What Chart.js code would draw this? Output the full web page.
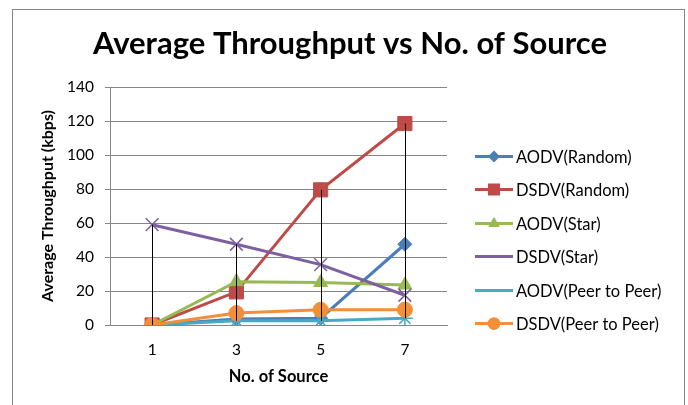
<!DOCTYPE html>
<html>
<head>
<meta charset="utf-8">
<script src="https://cdn.jsdelivr.net/npm/chart.js@4"></script>
<style>
  html, body { margin: 0; padding: 0; background: #fff; }
  #wrap { position: relative; width: 688px; height: 405px; }
</style>
</head>
<body>
<div id="wrap"><canvas id="c" width="688" height="405"></canvas></div>
<script>
// Number of sources on the x axis
const sources = ['1', '3', '5', '7'];

// Average throughput (kbps) per protocol / topology
const aodvRandom = [0, 3.5, 4, 47.5];
const dsdvRandom = [0, 19.5, 79.5, 118.5];
const aodvStar   = [0, 25.5, 25, 23.5];
const dsdvStar   = [59, 47.5, 35.5, 17.5];
const aodvPeer   = [0, 2.5, 2.5, 4];
const dsdvPeer   = [0, 7, 9, 9];

// Y axis ticks
const yMin = 0, yMax = 140, yStep = 20;

const FONT = 'Lato, "Open Sans", "DejaVu Sans", sans-serif';

function series(label, data, color, style, radius, idx) {
  const cross = style === 'crossRot' || style === 'star';
  return {
    label, data,
    borderColor: color,
    backgroundColor: color,
    borderWidth: 3,
    pointStyle: style,
    pointRadius: radius,
    pointHoverRadius: radius,
    pointBackgroundColor: color,
    pointBorderColor: color,
    pointBorderWidth: cross ? 1.5 : 1,
    tension: 0,
    order: 5 - idx
  };
}

const datasets = [
  series('AODV(Random)', aodvRandom, '#4A7EBB', 'rectRot', 7, 0),
  series('DSDV(Random)', dsdvRandom, '#BE4B48', 'rect', 10, 1),
  series('AODV(Star)', aodvStar, '#98B954', 'triangle', 8, 2),
  series('DSDV(Star)', dsdvStar, '#7D60A0', 'crossRot', 9, 3),
  series('AODV(Peer to Peer)', aodvPeer, '#46AAC5', 'star', 8, 4),
  series('DSDV(Peer to Peer)', dsdvPeer, '#F38F3A', 'circle', 7.5, 5)
];

// Outer frame of the chart
const framePlugin = {
  id: 'frame',
  beforeDraw(chart) {
    const ctx = chart.ctx;
    ctx.save();
    ctx.strokeStyle = '#868686';
    ctx.lineWidth = 1;
    ctx.strokeRect(12.5, 9.5, 672, 420);
    ctx.restore();
  }
};

// High-low lines joining the highest and lowest value at each category
const hiLoPlugin = {
  id: 'hiLo',
  afterDatasetsDraw(chart) {
    const ctx = chart.ctx;
    const xs = chart.scales.x, ys = chart.scales.y;
    ctx.save();
    ctx.strokeStyle = '#000';
    ctx.lineWidth = 1;
    sources.forEach((s, i) => {
      const vals = chart.data.datasets.map(d => d.data[i]);
      const hi = Math.max(...vals), lo = Math.min(...vals);
      const x = Math.round(xs.getPixelForValue(i)) + 0.5;
      ctx.beginPath();
      ctx.moveTo(x, ys.getPixelForValue(hi));
      ctx.lineTo(x, ys.getPixelForValue(lo));
      ctx.stroke();
    });
    ctx.restore();
  }
};

// Legend on the right, one row per series (line + marker + name)
const sideLegend = {
  id: 'sideLegend',
  afterDraw(chart) {
    const ctx = chart.ctx;
    const x0 = 475, x1 = 513, tx = 516, y0 = 156, step = 33.4;
    ctx.save();
    ctx.font = '16.5px ' + FONT;
    ctx.textBaseline = 'middle';
    ctx.textAlign = 'left';
    chart.data.datasets.forEach((d, i) => {
      const y = Math.round(y0 + i * step) + 0.5;
      ctx.strokeStyle = d.borderColor;
      ctx.lineWidth = 3;
      ctx.beginPath();
      ctx.moveTo(x0, y);
      ctx.lineTo(x1, y);
      ctx.stroke();
      ctx.lineWidth = d.pointBorderWidth;
      ctx.fillStyle = d.pointBackgroundColor;
      ctx.strokeStyle = d.pointBorderColor;
      Chart.helpers.drawPoint(ctx, {
        pointStyle: d.pointStyle,
        radius: d.pointRadius * 0.85,
        rotation: 0
      }, (x0 + x1) / 2, y);
      ctx.fillStyle = '#000';
      ctx.fillText(d.label, tx, y + 1);
    });
    ctx.restore();
  }
};

new Chart(document.getElementById('c'), {
  type: 'line',
  data: { labels: sources, datasets },
  plugins: [framePlugin, hiLoPlugin, sideLegend],
  options: {
    responsive: false,
    animation: false,
    events: [],
    layout: { padding: { left: 12, right: 0, top: 25, bottom: 18 } },
    plugins: {
      legend: { display: false },
      tooltip: { enabled: false },
      title: {
        display: true,
        text: 'Average Throughput vs No. of Source',
        color: '#000',
        font: { family: FONT, size: 31, weight: 'bold', lineHeight: 1.2 },
        padding: { top: 0, bottom: 24.8 }
      }
    },
    scales: {
      x: {
        offset: true,
        afterFit(s) { s.height = 62; },
        grid: { display: false, drawTicks: false },
        border: { display: true, color: '#868686', width: 1 },
        ticks: { color: '#000', padding: 16, font: { family: FONT, size: 15.5 } },
        title: {
          display: true,
          text: 'No. of Source',
          color: '#000',
          padding: 0,
          font: { family: FONT, size: 16.5, weight: 'bold', lineHeight: 1.2 }
        }
      },
      y: {
        min: yMin, max: yMax,
        afterFit(s) { s.width = 98; },
        grid: { color: '#868686', lineWidth: 1, drawTicks: true, tickLength: 5 },
        border: { display: true, color: '#868686', width: 1 },
        ticks: { stepSize: yStep, color: '#000', padding: 11, font: { family: FONT, size: 15.5 } },
        title: {
          display: true,
          text: 'Average Throughput (kbps)',
          color: '#000',
          padding: { top: 26, bottom: 0 },
          font: { family: FONT, size: 16, weight: 'bold', lineHeight: 1.2 }
        }
      },
      // empty axis on the right that keeps room for the legend
      legendSpace: {
        type: 'linear',
        position: 'right',
        display: true,
        afterFit(s) { s.width = 241; },
        grid: { display: false, drawTicks: false },
        border: { display: false },
        ticks: { display: false }
      }
    }
  }
});
</script>
</body>
</html>
